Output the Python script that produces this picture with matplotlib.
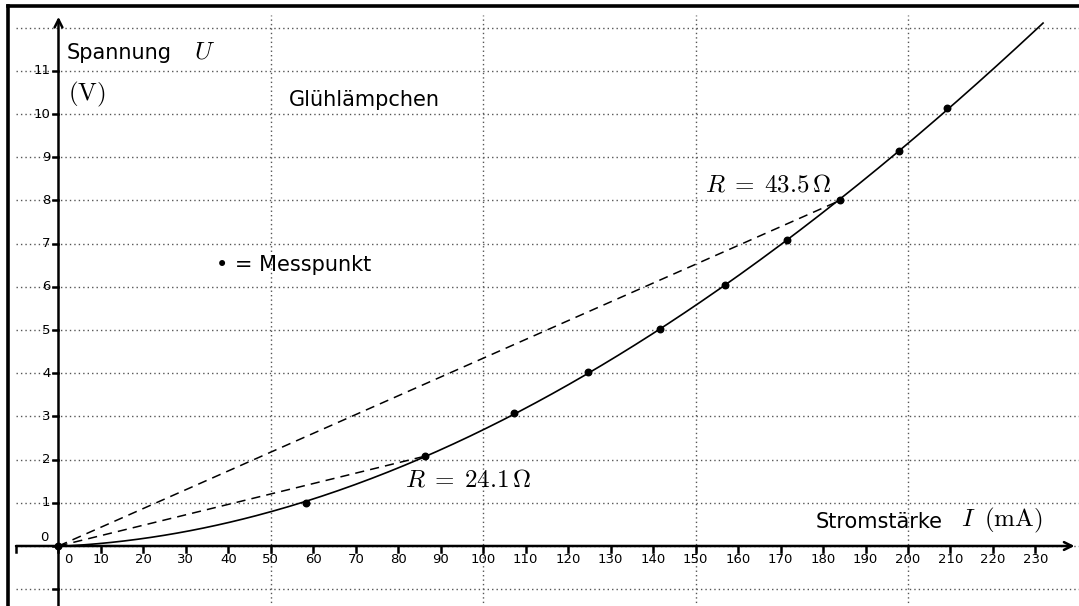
import numpy as np
import matplotlib.pyplot as plt

plt.rcParams['mathtext.fontset'] = 'cm'
plt.rcParams['font.family'] = ['DejaVu Sans']

# Messpunkte (Stromstärke in mA, Spannung in V)
strom = [0, 58.2, 86.3, 107.3, 124.7, 141.6, 156.9, 171.5, 184.0, 197.9, 209.3]
spannung = [0, 1.0, 2.08, 3.07, 4.02, 5.02, 6.04, 7.08, 8.0, 9.14, 10.13]

# Punkte für die Widerstandsgeraden
r_punkte = [(86.3, 2.08), (184.0, 8.0)]
r_texte = [r'$R\;=\;24.1\,\Omega$', r'$R\;=\;43.5\,\Omega$']

x_ticks = list(range(0, 240, 10))
y_ticks = list(range(0, 12))
x_grid = [50, 100, 150, 200]
y_grid = list(range(-1, 13))

fig = plt.figure(figsize=(10.79, 6.06), dpi=100)
ax = fig.add_axes([0, 0, 1, 1])
ax.set_xlim(-13.77, 240.26)
ax.set_ylim(-1.389, 12.64)
ax.axis('off')

dot = (0, (1, 2.2))
for y in y_grid:
    ax.plot([-10, 241], [y, y], color='#555555', lw=1, ls=dot, zorder=1)
for x in x_grid:
    ax.plot([x, x], [-1.5, 12.3], color='#555555', lw=1, ls=dot, zorder=1)

# Achsen mit Pfeilen
ax.annotate('', xy=(239.2, 0), xytext=(-10, 0),
            arrowprops=dict(arrowstyle='->', lw=1.8, color='black',
                            mutation_scale=14, shrinkA=0, shrinkB=0), zorder=3)
ax.annotate('', xy=(0, 12.25), xytext=(0, -1.5),
            arrowprops=dict(arrowstyle='->', lw=1.8, color='black',
                            mutation_scale=14, shrinkA=0, shrinkB=0), zorder=3)

# Achsenstriche
for x in [-10] + x_ticks:
    ax.plot([x, x], [0, -0.14], color='black', lw=1.8, zorder=3)
for y in [-1] + y_ticks:
    ax.plot([0, -1.4], [y, y], color='black', lw=1.8, zorder=3)

for x in x_ticks[1:]:
    ax.text(x, -0.32, str(x), ha='center', va='center', fontsize=9.5)
ax.text(2.4, -0.32, '0', ha='center', va='center', fontsize=9.5)
for y in y_ticks[1:]:
    ax.text(-1.9, y, str(y), ha='right', va='center', fontsize=9.5)
ax.text(-3.3, 0.2, '0', ha='center', va='center', fontsize=9.5)

# Kennlinie (Ausgleichskurve)
koeff = np.polyfit(strom, spannung, 3)
xs = np.linspace(0, 231.8, 300)
ax.plot(xs, np.polyval(koeff, xs), color='black', lw=1.2, zorder=4)

for (xi, yi) in r_punkte:
    ax.plot([0, xi], [0, yi], color='black', lw=1.1, ls=(0, (6, 4)), zorder=4)

ax.scatter(strom, spannung, s=22, color='black', zorder=5)

# Beschriftungen
ax.text(1.8, 11.42, 'Spannung', fontsize=15, va='center', ha='left')
ax.text(32.0, 11.45, r'$U$', fontsize=18, va='center', ha='left')
ax.text(2.3, 10.45, r'$\mathrm{(V)}$', fontsize=18, va='center', ha='left')
ax.text(54.3, 10.33, 'Glühlämpchen', fontsize=15, va='center', ha='left')
ax.text(37.0, 6.5, '• = Messpunkt', fontsize=15, va='center', ha='left')
ax.text(152.2, 8.38, r_texte[1], fontsize=18, va='center', ha='left')
ax.text(81.6, 1.53, r_texte[0], fontsize=18, va='center', ha='left')
ax.text(178.3, 0.56, 'Stromstärke', fontsize=15, va='center', ha='left')
ax.text(212.5, 0.58, r'$I\;\;\mathrm{(mA)}$', fontsize=18, va='center', ha='left')

# Rahmen oben und links
fig.add_artist(plt.Line2D([7.5 / 1079, 1], [1 - 5.5 / 606, 1 - 5.5 / 606],
                          transform=fig.transFigure, color='black', lw=2.6))
fig.add_artist(plt.Line2D([7.5 / 1079, 7.5 / 1079], [0, 1 - 5.5 / 606],
                          transform=fig.transFigure, color='black', lw=2.6))

fig.savefig('out.png', dpi=100)
